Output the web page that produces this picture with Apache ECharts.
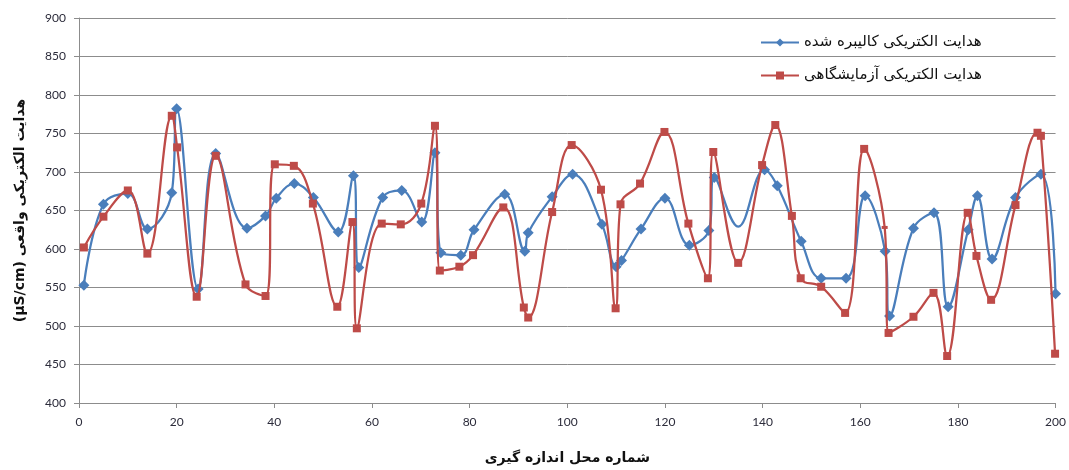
<!DOCTYPE html>
<html>
<head>
<meta charset="utf-8">
<script src="https://cdn.jsdelivr.net/npm/echarts@6/dist/echarts.min.js"></script>
<style>
  html, body { margin: 0; padding: 0; background: #fff; }
  #chart { width: 1069px; height: 470px; }
</style>
</head>
<body>
<div id="chart"></div>
<script>
// series names (legend)
const calibratedName = 'هدایت الکتریکی کالیبره شده';
const labName = 'هدایت الکتریکی آزمایشگاهی';

// calibrated conductivity (blue)
const calibratedX = [1, 5, 10, 14, 19, 20, 24.4, 28, 34.4, 38.2, 40.4, 44.1, 48, 53.1, 56.2, 57.3, 62.2, 66.1, 70.2, 72.9,
  74.1, 78.2, 80.9, 87.2, 91.3, 92, 96.9, 101.1, 107.1, 110, 111.1, 115.1, 120, 125, 129, 130.1, 135, 140.4, 143, 147.9,
  152, 157.1, 161, 165.1, 166, 170.9, 175.1, 178, 182.1, 184, 187, 191.8, 197, 200];
const calibratedY = [553, 658, 672, 626, 673, 782, 548, 724, 627, 643, 666, 685, 667, 622, 695, 576, 667, 676, 635, 725,
  595, 592, 625, 671, 597, 621, 668, 697, 632, 577, 585, 626, 666, 605, 624, 693, 629, 703, 682, 610,
  562, 562, 669, 597, 513, 627, 647, 525, 625, 669, 587, 667, 697, 542];

// laboratory conductivity (red)
const labX = [1, 5, 10, 14, 19, 20.1, 24.1, 28, 34.1, 38.2, 40.1, 44, 47.9, 52.9, 56, 56.9, 62, 65.9, 70.1, 72.9,
  73.9, 77.9, 80.7, 86.9, 91.1, 92, 96.9, 100.9, 106.9, 109.9, 110.9, 114.9, 119.9, 124.8, 128.8, 129.9, 135, 139.9, 142.6, 146,
  147.8, 152, 156.9, 160.8, 165, 165.8, 170.9, 175, 177.8, 182, 183.8, 186.8, 191.8, 196.3, 197, 199.9];
const labY = [602, 642, 676, 594, 773, 732, 538, 721, 554, 539, 710, 708, 659, 525, 635, 497, 633, 632, 659, 760,
  572, 577, 592, 654, 524, 511, 648, 735, 677, 523, 658, 685, 752, 633, 562, 726, 582, 709, 761, 643,
  562, 551, 517, 730, 628, 491, 512, 543, 461, 647, 591, 534, 657, 751, 747, 464];

// axis ticks
const xTicks = { min: 0, max: 200, interval: 20 };
const yTicks = { min: 400, max: 900, interval: 50 };

const xName = 'شماره محل اندازه گیری';
const yName = '(µS/cm) هدایت الکتریکی واقعی';

const zip = (xs, ys) => xs.map((x, i) => [x, ys[i]]);

const chart = echarts.init(document.getElementById('chart'));

const tickFont = { fontFamily: 'Lato', fontSize: 12, color: '#2b2b3a' };

chart.setOption({
  animation: false,
  grid: { left: 79, right: 10, top: 18, bottom: 66 },
  legend: {
    orient: 'vertical',
    right: 82,
    top: 30,
    itemGap: 18,
    itemWidth: 38,
    itemHeight: 10,
    textStyle: { fontFamily: 'DejaVu Sans', fontSize: 15, color: '#111' },
    data: [calibratedName, labName]
  },
  xAxis: {
    type: 'value',
    min: xTicks.min,
    max: xTicks.max,
    interval: xTicks.interval,
    name: xName,
    nameLocation: 'middle',
    nameGap: 48,
    nameTextStyle: { fontFamily: 'DejaVu Sans', fontSize: 14, fontWeight: 'bold', color: '#111' },
    axisLine: { lineStyle: { color: '#8c8c8c', width: 1 } },
    axisTick: { show: true, length: 5, lineStyle: { color: '#8c8c8c' } },
    axisLabel: { ...tickFont, margin: 13 },
    splitLine: { show: false }
  },
  yAxis: {
    type: 'value',
    min: yTicks.min,
    max: yTicks.max,
    interval: yTicks.interval,
    name: yName,
    nameLocation: 'middle',
    nameRotate: 90,
    nameGap: 52,
    nameTextStyle: { fontFamily: 'DejaVu Sans', fontSize: 14, fontWeight: 'bold', color: '#111' },
    axisLine: { show: true, lineStyle: { color: '#8c8c8c', width: 1 } },
    axisTick: { show: true, length: 5, lineStyle: { color: '#8c8c8c' } },
    axisLabel: { ...tickFont, margin: 13 },
    splitLine: { show: true, lineStyle: { color: '#8c8c8c', width: 1 } }
  },
  series: [
    {
      name: calibratedName,
      type: 'line',
      smooth: 0.4,
      data: zip(calibratedX, calibratedY),
      symbol: 'diamond',
      symbolSize: (v) => (v[0] === 135 ? 0 : 11),
      showAllSymbol: true,
      lineStyle: { color: '#4a7ebb', width: 2.25 },
      itemStyle: { color: '#4a7ebb', borderWidth: 0 },
      z: 2
    },
    {
      name: labName,
      type: 'line',
      smooth: 0.4,
      data: zip(labX, labY),
      symbol: 'rect',
      symbolSize: (v) => (v[0] === 165 ? [6, 3] : 8),
      showAllSymbol: true,
      lineStyle: { color: '#be4b48', width: 2.25 },
      itemStyle: { color: '#be4b48', borderWidth: 0 },
      z: 3
    }
  ]
});
</script>
</body>
</html>
